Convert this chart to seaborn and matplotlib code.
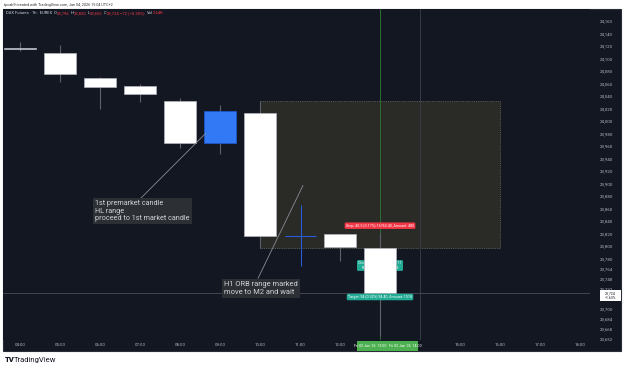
import numpy as np
import pandas as pd
import matplotlib
matplotlib.use("Agg")
import matplotlib.pyplot as plt
from matplotlib.patches import Rectangle
import seaborn as sns

# ---------------- data ----------------
candle_hours = [4, 5, 6, 7, 8, 9, 10, 12, 13]
opens  = [24116, 24108, 24069, 24055, 24032, 23965, 24012, 23819, 23796]
highs  = [24126, 24121, 24070, 24058, 24036, 24025, 24032, 23819, 23820]
lows   = [24112, 24062, 24019, 24030, 23956, 23947, 23796, 23776, 23655]
closes = [24114, 24074, 24054, 24042, 23964, 24015, 23816, 23798, 23724]

price_ticks = [24160, 24140, 24120, 24100, 24080, 24060, 24040, 24020, 24000,
               23980, 23960, 23940, 23920, 23900, 23880, 23860, 23840, 23820,
               23800, 23780, 23764, 23748, 23732, 23700, 23684, 23668, 23652]
price_tick_labels = [f"{v:,}" for v in price_ticks]

time_ticks = [4, 5, 6, 7, 8, 9, 10, 11, 12, 15, 16, 17, 18]
time_tick_labels = [f"{h:02d}:00" for h in time_ticks]

orb_high, orb_low = 24032, 23796
orb_start, orb_end = 10, 16
last_price = 23724

header_left = "tpcab9 created with TradingView.com, Jan 04, 2026 15:04 UTC+2"
symbol_text = "DAX Futures · 1h · EUREX"
ohlc_text = [("O", "23,796"), ("H", "23,820"), ("L", "23,655"), ("C", "23,724")]
change_text = "−72 (−0.30%)"
vol_text = "2.64K"

note1 = "1st premarket candle\nHL range\nproceed to 1st market candle"
note2 = "H1 ORB range marked\nmove to M2 and wait"
stop_label = "Stop: 40.5 (0.17%) 16760.40, Amount: 480"
pl_label = "Closed P&L: 33.5, Qty: 0.11\nRisk/Reward Ratio: 2.3"
target_label = "Target: 94 (0.32%) 94.40, Amount: 1518"
date_label = "Fri 02 Jan '26  13:00   Fri 02 Jan '26  14:00"

# ---------------- style ----------------
sns.set_theme(style="dark")
plt.rcParams['font.family'] = ['Roboto', 'DejaVu Sans']

BG = '#131722'
W, H = 625, 370
fig = plt.figure(figsize=(W / 100, H / 100), dpi=100)
fig.patch.set_facecolor('white')


def fx(x):
    return x / W


def fy(y):
    return 1 - y / H


# chart panel
fig.add_artist(Rectangle((fx(3), fy(351)), 618 / W, 342 / H, transform=fig.transFigure,
                         facecolor=BG, edgecolor='#2a2e39', lw=0.8, zorder=-5))

ax = fig.add_axes([fx(3), fy(340), 587 / W, 331 / H])
ax.set_facecolor(BG)
ax.set_xlim(3.575, 18.25)
ax.set_ylim(23649.1, 24178.7)
sns.despine(ax=ax, left=True, bottom=True, right=True, top=True)
ax.grid(False)

# ORB range box
ax.add_patch(Rectangle((orb_start, orb_low), orb_end - orb_start, orb_high - orb_low,
                       facecolor='#2a2b27', edgecolor='#6a6b66', ls=(0, (1, 1.2)), lw=0.6, zorder=1))

# vertical / horizontal guide lines
ax.axvline(13, color='#2c6e33', lw=0.7, zorder=2)
ax.axvline(14, color='#363a44', lw=0.7, zorder=2)
ax.axhline(last_price, color='#4a4d57', lw=0.6, zorder=2)

# candles
df = pd.DataFrame(dict(h=candle_hours, o=opens, hi=highs, lo=lows, c=closes))
bull = df.c > df.o
ax.vlines(df.h, df.lo, df.hi, color='#5d606b', lw=0.8, zorder=3)
body_bottom = np.minimum(df.o, df.c)
body_height = np.maximum(np.abs(df.c - df.o), 1.8)
ax.bar(df.h, body_height, bottom=body_bottom, width=0.79,
       color=np.where(bull, '#3179f5', '#ffffff'),
       edgecolor=np.where(bull, '#1f5ad8', '#b2b5be'), lw=0.5, zorder=4)

# blue cross drawing
ax.vlines(11.02, 23767.5, 23865, color='#2a5bd7', lw=0.8, zorder=5)
ax.hlines(23815, 10.625, 11.4, color='#2a5bd7', lw=0.8, zorder=5)

# notes
ax.plot([7.025, 8.65], [23876.3, 23980.3], color='#8a8d96', lw=0.6, zorder=5)
ax.text(5.875, 23873, note1, va='top', ha='left', fontsize=5.2, color='#d1d4dc',
        linespacing=1.1, zorder=6,
        bbox=dict(boxstyle='square,pad=0.3', fc='#2c2f33', ec='none'))
ax.plot([9.95, 11.075], [23747.7, 23896.5], color='#8a8d96', lw=0.6, zorder=5)
ax.text(9.1, 23743.5, note2, va='top', ha='left', fontsize=5.4, color='#d1d4dc',
        linespacing=1.1, zorder=6,
        bbox=dict(boxstyle='square,pad=0.3', fc='#2c2f33', ec='none'))

# position labels
ax.text(13.0, 23832, stop_label, ha='center', va='center', fontsize=2.6, color='white', zorder=6,
        bbox=dict(boxstyle='round,pad=0.35,rounding_size=0.4', fc='#f23645', ec='none'))
ax.text(13.0, 23768.3, pl_label, ha='center', va='center', fontsize=2.6, color='white', zorder=3.5,
        linespacing=1.1,
        bbox=dict(boxstyle='round,pad=0.35,rounding_size=0.4', fc='#22ab94', ec='none'))
ax.text(13.0, 23717.9, target_label, ha='center', va='center', fontsize=2.6, color='white', zorder=6,
        bbox=dict(boxstyle='round,pad=0.35,rounding_size=0.4', fc='#22ab94', ec='none'))

# axes ticks
ax.yaxis.tick_right()
ax.set_yticks(price_ticks)
ax.set_yticklabels(price_tick_labels)
ax.set_xticks(time_ticks)
ax.set_xticklabels(time_tick_labels)
ax.tick_params(axis='y', length=0, pad=7, labelsize=3.2, labelcolor='#b2b5be')
ax.tick_params(axis='x', length=0, pad=2.5, labelsize=3.2, labelcolor='#b2b5be')

# price label box on axis
fig.add_artist(Rectangle((fx(600), fy(300.5)), 21 / W, 10.5 / H, transform=fig.transFigure,
                         facecolor='white', edgecolor='none', zorder=5))
fig.text(fx(610.5), fy(292.9), "23,724", ha='center', va='center', fontsize=2.5, color=BG, zorder=6)
fig.text(fx(610.5), fy(297.9), "−1.63%", ha='center', va='center', fontsize=2.5, color=BG, zorder=6)

# green date label on time axis
fig.add_artist(Rectangle((fx(357), fy(350.5)), 61 / W, 9.5 / H, transform=fig.transFigure,
                         facecolor='#4caf50', edgecolor='none', zorder=5))
fig.text(fx(387.5), fy(345.8), date_label, ha='center', va='center', fontsize=2.6,
         color='white', zorder=6)

# top credit line
fig.text(fx(3.5), fy(5), header_left, ha='left', va='center', fontsize=2.7, color='#333333')

# symbol header with coloured segments
renderer = fig.canvas.get_renderer()


def seg(x, text, color):
    t = fig.text(fx(x), fy(13.3), text, ha='left', va='center', fontsize=3.0, color=color, zorder=6)
    bb = t.get_window_extent(renderer=renderer)
    return x + bb.width


x = 6
x = seg(x, symbol_text, '#d1d4dc') + 2
for k, v in ohlc_text:
    x = seg(x, k, '#d1d4dc')
    x = seg(x, v, '#f23645') + 1.2
x = seg(x, change_text, '#f23645') + 2
x = seg(x, "Vol", '#d1d4dc')
x = seg(x, vol_text, '#f23645')

# footer logo
fig.text(fx(4.5), fy(360), "TV", ha='left', va='center', fontsize=5.5, fontweight='black', color='#131722')
fig.text(fx(14), fy(360), "TradingView", ha='left', va='center', fontsize=5.5, color='#131722')

fig.savefig("out.png", dpi=100, facecolor='white')
